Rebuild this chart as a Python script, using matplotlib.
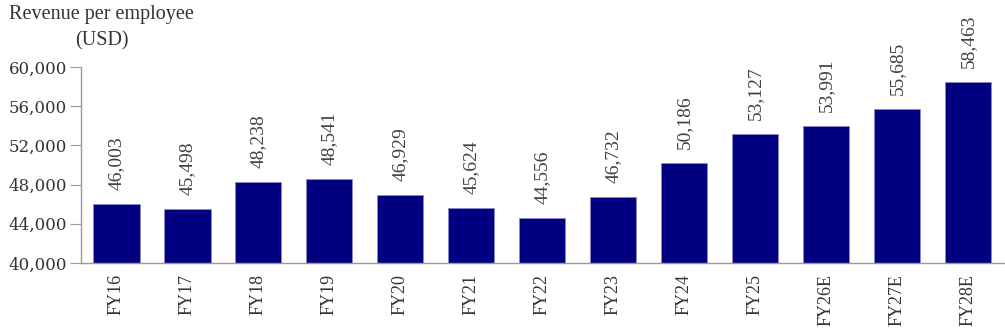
import matplotlib.pyplot as plt
import numpy as np

# 数据
years = ['FY16', 'FY17', 'FY18', 'FY19', 'FY20', 'FY21', 'FY22', 'FY23',
         'FY24', 'FY25', 'FY26E', 'FY27E', 'FY28E']
revenue = [46003, 45498, 48238, 48541, 46929, 45624, 44556, 46732,
           50186, 53127, 53991, 55685, 58463]
yticks = [40000, 44000, 48000, 52000, 56000, 60000]

plt.rcParams['font.family'] = ['Liberation Serif', 'DejaVu Serif']
text_color = '#333333'
bar_color = '#000080'
spine_color = '#999999'
wide_serif = ['DejaVu Serif']

fig = plt.figure(figsize=(10.05, 3.3), dpi=100)
ax = fig.add_axes([0.0806, 0.203, 0.918, 0.594])

x = np.arange(len(years))
bars = ax.bar(x, revenue, width=0.65, color=bar_color,
              edgecolor='#8888cc', linewidth=0.6)

ax.set_xlim(-0.5, len(years) - 0.5)
ax.set_ylim(40000, 60000)
ax.set_yticks(yticks)
ax.set_yticklabels([f'{v:,}' for v in yticks], fontsize=12,
                   color=text_color, family=wide_serif)
ax.set_xticks(x)
ax.set_xticklabels(years, rotation=90, fontsize=13, color=text_color)

ax.tick_params(axis='x', length=0, pad=8)
ax.tick_params(axis='y', length=8, width=0.8, color=spine_color, pad=2)

for side in ['top', 'right']:
    ax.spines[side].set_visible(False)
for side in ['left', 'bottom']:
    ax.spines[side].set_color(spine_color)
    ax.spines[side].set_linewidth(1.0)

# 数值标签
for xi, val in zip(x, revenue):
    ax.annotate(f'{val:,}', xy=(xi, val), xytext=(0, 10),
                textcoords='offset points', rotation=90,
                ha='center', va='bottom', fontsize=14, color='#404040')

fig.text(0.009, 0.985, 'Revenue per employee', fontsize=14.5,
         color=text_color, ha='left', va='top')
fig.text(0.101, 0.905, '(USD)', fontsize=14.5, color=text_color,
         ha='center', va='top')

fig.savefig('out.png', dpi=100)
